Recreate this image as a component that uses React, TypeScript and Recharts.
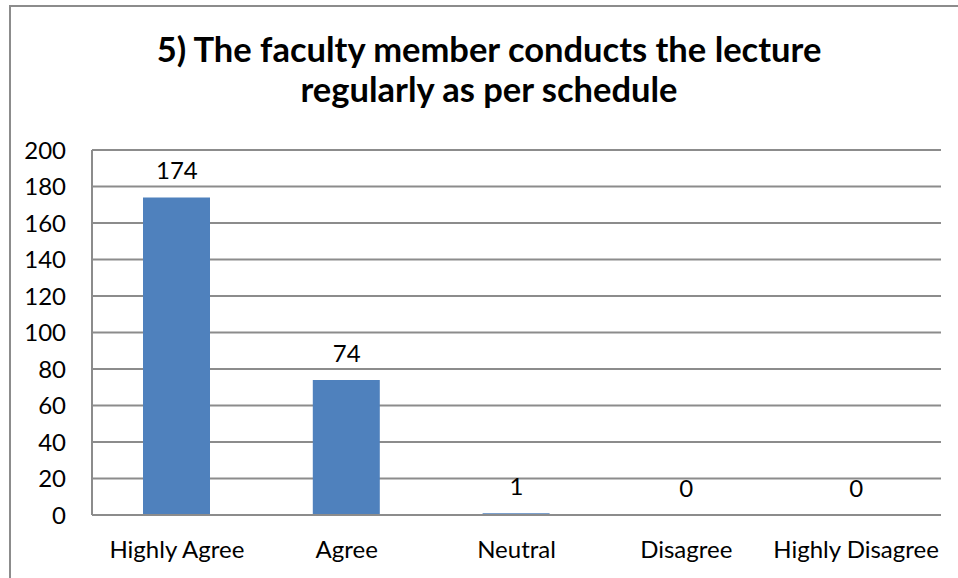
import React from "react";
import { ComposedChart, Bar, Line, XAxis, YAxis, CartesianGrid, LabelList } from "recharts";

const categories = ["Highly Agree", "Agree", "Neutral", "Disagree", "Highly Disagree"];
const responses = [174, 74, 1, 0, 0];
const yTicks = [0, 20, 40, 60, 80, 100, 120, 140, 160, 180, 200];
const titleLines = ["5) The faculty member conducts the lecture", "regularly as per schedule"];

const data = categories.map((c, i) => ({ name: c, value: responses[i] }));

const FONT = "Lato, 'Open Sans', sans-serif";
const GRID = "#8c8c8c";

export default function App() {
  return (
    <div style={{ position: "absolute", left: 0, top: 0, width: 958, height: 578, background: "#fff", overflow: "hidden" }}>
      <div style={{ position: "absolute", left: 9, top: 5, width: 2000, height: 2000, borderLeft: `2px solid ${GRID}`, borderTop: `2px solid ${GRID}` }} />
      <div style={{ position: "absolute", left: 0, top: 0 }}>
        <ComposedChart width={958} height={578} data={data} margin={{ top: 150, right: 17, bottom: 23, left: 0 }}>
          <text x={489} y={62} textAnchor="middle" fontFamily={FONT} fontWeight={700} fontSize={34.5} fill="#000">
            {titleLines[0]}
          </text>
          <text x={489} y={102} textAnchor="middle" fontFamily={FONT} fontWeight={700} fontSize={34.5} fill="#000">
            {titleLines[1]}
          </text>
          <CartesianGrid vertical={false} stroke={GRID} strokeWidth={2} />
          <XAxis
            dataKey="name"
            height={40}
            interval={0}
            tickLine={false}
            tickSize={6}
            tickMargin={20}
            axisLine={{ stroke: GRID, strokeWidth: 2 }}
            tick={{ fill: "#000", fontFamily: FONT, fontSize: 24 }}
          />
          <YAxis
            width={92}
            domain={[0, 200]}
            ticks={yTicks}
            interval={0}
            tickLine={false}
            tickSize={6}
            tickMargin={20}
            axisLine={{ stroke: GRID, strokeWidth: 2 }}
            tick={{ fill: "#000", fontFamily: FONT, fontSize: 24 }}
          />
          <Bar dataKey="value" fill="#4f81bd" barSize={67} isAnimationActive={false} />
          <Line dataKey="value" stroke="none" dot={false} activeDot={false} legendType="none" isAnimationActive={false}>
            <LabelList dataKey="value" position="top" offset={18} fill="#000" fontFamily={FONT} fontSize={24} />
          </Line>
        </ComposedChart>
      </div>
    </div>
  );
}
